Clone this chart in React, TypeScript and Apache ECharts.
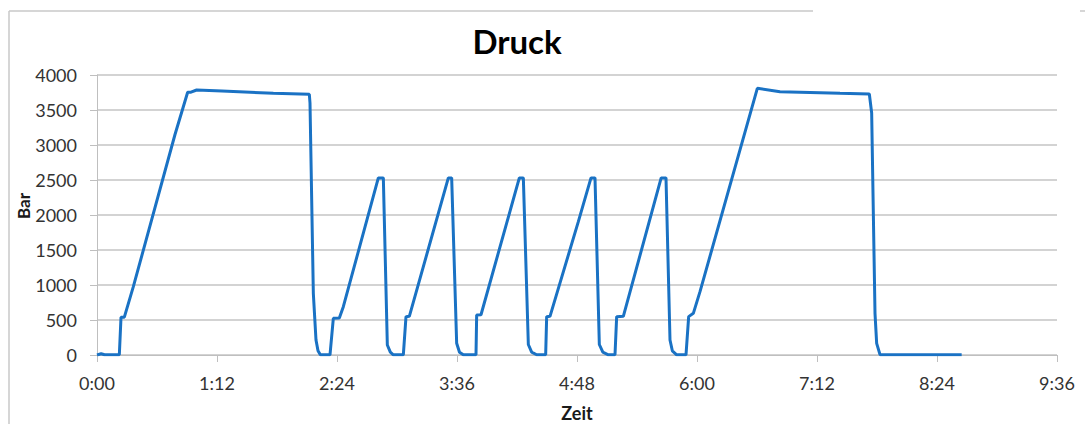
import React, { useEffect, useRef } from "react";
import * as echarts from "echarts";

const timesSec = [0, 2.5, 4.5, 13.4, 14.4, 16.4, 21.8, 46.8, 54.4, 56.4, 59.8, 75, 105.8, 127.4, 127.8, 129.8, 131.4, 132.6, 134, 139.8, 141.8, 145.4, 147.8, 168.8, 171.8, 174.2, 176, 177.8, 183.8, 185.4, 187.4, 210.8, 212.8, 215.8, 217.5, 219.8, 227.4, 227.8, 230.4, 253.4, 255.8, 258.8, 260.8, 263.8, 269.2, 269.8, 271.8, 288.8, 296.4, 298.8, 301.4, 303.5, 306.8, 310.8, 311.8, 315.8, 338.5, 341.4, 343.8, 345.2, 347.8, 353.4, 355, 357.8, 361.8, 396.2, 409.8, 445.8, 463.4, 464.8, 466.8, 467.8, 469.8, 518.8];
const pressureBar = [0, 18, 3, 3, 538, 540, 976, 3150, 3753, 3755, 3786, 3772, 3738, 3724, 3600, 881, 214, 60, 3, 3, 524, 530, 690, 2530, 2530, 143, 40, 3, 3, 548, 552, 2530, 2530, 167, 40, 3, 3, 571, 575, 2530, 2530, 150, 40, 3, 3, 548, 552, 1905, 2530, 2530, 150, 40, 3, 3, 548, 552, 2530, 2530, 214, 60, 3, 3, 548, 595, 905, 3810, 3762, 3738, 3729, 3457, 595, 167, 5, 5];
const xTickLabels = ["0:00", "1:12", "2:24", "3:36", "4:48", "6:00", "7:12", "8:24", "9:36"];
const yTicks = [0, 500, 1000, 1500, 2000, 2500, 3000, 3500, 4000];

export default function App() {
  const ref = useRef<HTMLDivElement>(null);
  useEffect(() => {
    if (!ref.current) return;
    const chart = echarts.init(ref.current, undefined, { renderer: "svg" });
    const data = timesSec.map((t, i) => [t, pressureBar[i]]);
    const font = "Lato, 'Open Sans', sans-serif";
    chart.setOption({
      animation: false,
      backgroundColor: "#ffffff",
      grid: { left: 97, right: 28, top: 75, bottom: 69, containLabel: false, outerBoundsMode: "none" },
      title: {
        text: "Druck",
        left: 512,
        top: 19,
        textAlign: "center",
        textStyle: { fontFamily: font, fontSize: 33, fontWeight: "bold", color: "#000" },
      },
      xAxis: {
        type: "value",
        min: 0,
        max: 576,
        interval: 72,
        name: "Zeit",
        nameLocation: "middle",
        nameGap: 49,
        nameMoveOverlap: false,
        nameTextStyle: { fontFamily: font, fontSize: 18, fontWeight: "bold", color: "#1a1a1a" },
        axisLine: { show: true, lineStyle: { color: "#bfbfbf", width: 1 } },
        axisTick: { show: true, length: 7, lineStyle: { color: "#bfbfbf" } },
        splitLine: { show: false },
        axisLabel: {
          margin: 19,
          fontFamily: font,
          fontSize: 18,
          color: "#333",
          formatter: (v: number) => xTickLabels[Math.round(v / 72)] ?? "",
        },
      },
      yAxis: {
        type: "value",
        min: yTicks[0],
        max: yTicks[yTicks.length - 1],
        interval: 500,
        name: "Bar",
        nameLocation: "middle",
        nameGap: 65,
        nameRotate: 90,
        nameMoveOverlap: false,
        nameTextStyle: { fontFamily: font, fontSize: 17, fontWeight: "bold", color: "#1a1a1a", padding: [0, 0, 0, 18] },
        axisLine: { show: true, lineStyle: { color: "#bfbfbf", width: 1 } },
        axisTick: { show: true, length: 7, lineStyle: { color: "#bfbfbf" } },
        splitLine: { show: true, lineStyle: { color: "#c4c4c4", width: 1.5 } },
        axisLabel: {
          margin: 20,
          fontFamily: font,
          fontSize: 18,
          color: "#333",
          formatter: (v: number) => String(v),
        },
      },
      series: [
        {
          type: "line",
          data,
          showSymbol: false,
          smooth: false,
          lineStyle: { color: "#1a72c4", width: 3 },
          itemStyle: { color: "#1a72c4" },
        },
      ],
      graphic: [
        { type: "line", shape: { x1: 9, y1: 11, x2: 9, y2: 424 }, style: { stroke: "#c8c8c8", lineWidth: 1.5 } },
        { type: "line", shape: { x1: 9, y1: 11, x2: 813, y2: 11 }, style: { stroke: "#c8c8c8", lineWidth: 1.5 } },
        { type: "line", shape: { x1: 1080, y1: 11, x2: 1085, y2: 11 }, style: { stroke: "#c8c8c8", lineWidth: 1.5 } },
      ],
    });
    return () => chart.dispose();
  }, []);
  return (
    <div
      ref={ref}
      style={{ position: "fixed", left: 0, top: 0, width: 1085, height: 424, background: "#fff" }}
    />
  );
}
